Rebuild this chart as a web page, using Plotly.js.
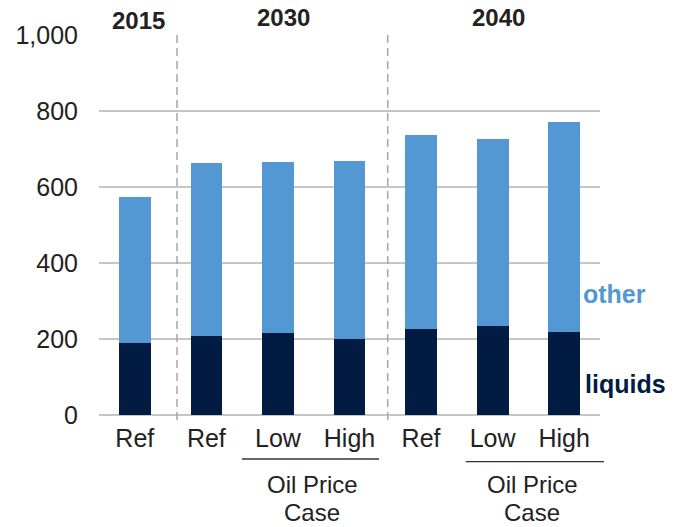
<!DOCTYPE html>
<html>
<head>
<meta charset="utf-8">
<script src="https://cdn.plot.ly/plotly-3.0.1.min.js"></script>
<style>html,body{margin:0;padding:0;background:#fff;}#chart{width:677px;height:527px;}</style>
</head>
<body>
<div id="chart"></div>
<script>
// Data
var positions = [0, 1, 2, 3, 4, 5, 6];
var caseLabels = ["Ref", "Ref", "Low", "High", "Ref", "Low", "High"];
var liquids = [189, 208, 215, 201, 226, 234, 219];
var other = [386, 455, 450, 467, 510, 493, 553];
var yTicks = [0, 200, 400, 600, 800, 1000];
var yearLabels = ["2015", "2030", "2040"];
var groupLabel = ["Oil Price", "Case"];
var seriesNames = ["liquids", "other"];

var FONT = "Liberation Sans, Arial, sans-serif";
var TXT = "#222222";
var C_LIQ = "#011B43";
var C_OTH = "#5397D3";

var traces = [
  {type: "bar", x: positions, y: liquids, name: seriesNames[0],
   marker: {color: C_LIQ, line: {width: 0}}, hoverinfo: "y"},
  {type: "bar", x: positions, y: other, name: seriesNames[1],
   marker: {color: C_OTH, line: {width: 0}}, hoverinfo: "y"}
];

function ann(text, x, y, opts) {
  var a = {text: text, x: x, y: y, xref: "paper", yref: "paper",
           showarrow: false, xanchor: "center", yanchor: "middle",
           font: {family: FONT, size: 24, color: TXT}};
  for (var k in opts) a[k] = opts[k];
  return a;
}

var annotations = [
  ann("<b>" + yearLabels[0] + "</b>", 0.078, 1.038, {font: {family: FONT, size: 24, color: TXT}}),
  ann("<b>" + yearLabels[1] + "</b>", 0.369, 1.046, {font: {family: FONT, size: 24, color: TXT}}),
  ann("<b>" + yearLabels[2] + "</b>", 0.797, 1.045, {font: {family: FONT, size: 24, color: TXT}}),
  ann(groupLabel[0], 0.426, -0.182),
  ann(groupLabel[1], 0.426, -0.257),
  ann(groupLabel[0], 0.865, -0.182),
  ann(groupLabel[1], 0.865, -0.257),
  ann("<b>" + seriesNames[1] + "</b>", 0.962, 0.318, {xanchor: "left", font: {family: FONT, size: 25, color: C_OTH}}),
  ann("<b>" + seriesNames[0] + "</b>", 0.967, 0.081, {xanchor: "left", font: {family: FONT, size: 25, color: C_LIQ}})
];

var dash = {color: "#A6A6A6", width: 1.5, dash: "8px,5px"};
var shapes = [
  {type: "line", xref: "x", yref: "paper", x0: 0.59, x1: 0.59, y0: -0.013, y1: 1, line: dash},
  {type: "line", xref: "x", yref: "paper", x0: 3.534, x1: 3.534, y0: -0.013, y1: 1, line: dash},
  {type: "line", xref: "paper", yref: "paper", x0: 0.2854, x1: 0.5589, y0: -0.1158, y1: -0.1158, line: {color: "#333333", width: 1.3}},
  {type: "line", xref: "paper", yref: "paper", x0: 0.7319, x1: 1.008, y0: -0.1229, y1: -0.1229, line: {color: "#333333", width: 1.3}}
];

var layout = {
  width: 677, height: 527,
  margin: {l: 99, r: 77, t: 35, b: 112, pad: 0},
  paper_bgcolor: "#ffffff", plot_bgcolor: "#ffffff",
  barmode: "stack", bargap: 0.557,
  showlegend: false,
  font: {family: FONT, color: TXT, size: 24},
  xaxis: {
    range: [-0.5, 6.5], tickmode: "array", tickvals: positions, ticktext: caseLabels,
    showgrid: false, zeroline: false, showline: false, ticks: "",
    ticklabelstandoff: 6,
    tickfont: {family: FONT, size: 25, color: TXT}, fixedrange: true
  },
  yaxis: {
    range: [0, 1000], tickmode: "array", tickvals: yTicks, tickformat: ",",
    showgrid: true, gridcolor: "#C6C6C6", gridwidth: 1.4,
    zeroline: true, zerolinecolor: "#C6C6C6", zerolinewidth: 1.4,
    showline: false, ticks: "", ticklabelstandoff: 20,
    tickfont: {family: FONT, size: 25, color: TXT}, fixedrange: true
  },
  annotations: annotations,
  shapes: shapes
};

Plotly.newPlot("chart", traces, layout, {displayModeBar: false, staticPlot: true});
</script>
</body>
</html>
